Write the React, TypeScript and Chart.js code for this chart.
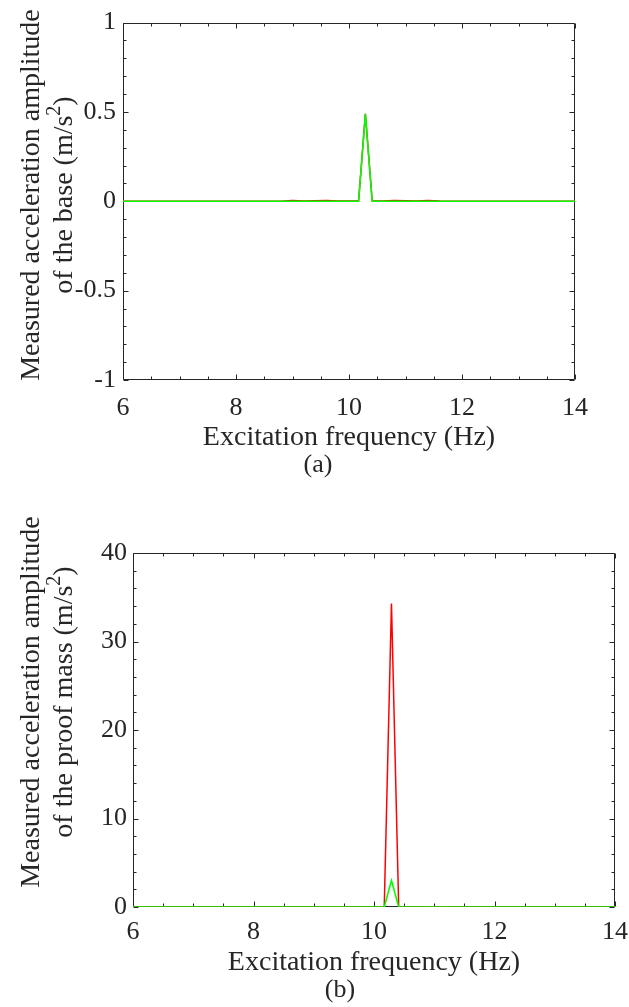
import React, { useEffect, useRef } from 'react';
import { Chart, registerables } from 'chart.js';
Chart.register(...registerables);

// ---- data ----
const freqBase = [6.0, 7.0, 8.0, 8.8, 9.0, 9.2, 9.4, 9.6, 9.8, 10.05, 10.17, 10.29, 10.41, 10.6, 10.8, 11.0, 11.2, 11.4, 11.6, 12.0, 13.0, 14.0];
const baseRed = [0, 0, 0, 0, 0.004, 0.002, 0.003, 0.004, 0.001, 0.002, 0.003, 0.49, 0.003, 0.002, 0.004, 0.003, 0.002, 0.004, 0.001, 0, 0, 0];
const baseGreen = [0, 0, 0, 0, 0, 0, 0, 0, 0, 0, 0, 0.49, 0, 0, 0, 0, 0, 0, 0, 0, 0, 0];

const freqMass = [6.0, 8.0, 9.5, 10.17, 10.29, 10.41, 11.0, 12.0, 14.0];
const massRed = [0, 0, 0.02, 0, 34.3, 0, 0.02, 0, 0];
const massGreen = [0, 0, 0, 0, 3.0, 0, 0, 0, 0];

const xMajorTicks = [6, 8, 10, 12, 14];
const yMajorTicksA = [-1, -0.5, 0, 0.5, 1];
const yMajorTicksB = [0, 10, 20, 30, 40];

const FONT = '"Liberation Serif", "Times New Roman", serif';
const INK = '#262626';

const isMajor = (arr: number[], v: number) => arr.some((t) => Math.abs(t - v) < 1e-6);

const framePlugin = {
  id: 'frameTicks',
  beforeDatasetsDraw(chart: any, _args: any, opts: any) {
    const { ctx, chartArea } = chart;
    const { left, right, top, bottom } = chartArea;
    const L = Math.round(left) + 0.5, R = Math.round(right) - 0.5;
    const T = Math.round(top) + 0.5, B = Math.round(bottom) - 0.5;
    ctx.save();
    ctx.strokeStyle = INK;
    ctx.lineWidth = 1;
    ctx.beginPath();
    ctx.rect(L, T, R - L, B - T);
    ctx.stroke();
    const xs = chart.scales.x, ys = chart.scales.y;
    ctx.beginPath();
    xs.ticks.forEach((t: any) => {
      const px = Math.round(xs.getPixelForValue(t.value)) + 0.5;
      const len = isMajor(opts.xMajor, t.value) ? 5 : 3;
      ctx.moveTo(px, B); ctx.lineTo(px, B - len);
      ctx.moveTo(px, T); ctx.lineTo(px, T + len);
    });
    ys.ticks.forEach((t: any) => {
      const py = Math.round(ys.getPixelForValue(t.value)) + 0.5;
      const len = isMajor(opts.yMajor, t.value) ? 5 : 3;
      ctx.moveTo(L, py); ctx.lineTo(L + len, py);
      ctx.moveTo(R, py); ctx.lineTo(R - len, py);
    });
    ctx.stroke();
    ctx.restore();
  },
  afterDraw(chart: any, _args: any, opts: any) {
    const { ctx } = chart;
    ctx.save();
    ctx.fillStyle = INK;
    const size = opts.titleSize;
    ctx.translate(opts.yTitleX1, opts.yTitleCy);
    ctx.rotate(-Math.PI / 2);
    ctx.font = `${size}px ${FONT}`;
    ctx.textAlign = 'center';
    ctx.textBaseline = 'middle';
    ctx.fillText(opts.yTitle1, 0, 0);
    ctx.restore();

    ctx.save();
    ctx.fillStyle = INK;
    ctx.translate(opts.yTitleX2, opts.yTitleCy);
    ctx.rotate(-Math.PI / 2);
    ctx.textBaseline = 'middle';
    ctx.textAlign = 'left';
    const big = `${size}px ${FONT}`;
    const small = `${Math.round(size * 0.7)}px ${FONT}`;
    ctx.font = big;
    const w1 = ctx.measureText(opts.yTitle2).width;
    const w3 = ctx.measureText(opts.yTitle2End).width;
    ctx.font = small;
    const w2 = ctx.measureText(opts.yTitleSup).width;
    let x0 = -(w1 + w2 + w3) / 2;
    ctx.font = big;
    ctx.fillText(opts.yTitle2, x0, 0);
    x0 += w1;
    ctx.font = small;
    ctx.fillText(opts.yTitleSup, x0, -size * 0.38);
    x0 += w2;
    ctx.font = big;
    ctx.fillText(opts.yTitle2End, x0, 0);
    ctx.restore();

    ctx.save();
    ctx.fillStyle = INK;
    ctx.font = `${opts.panelSize}px ${FONT}`;
    ctx.textAlign = 'center';
    ctx.textBaseline = 'middle';
    ctx.fillText(opts.panel, opts.panelX, opts.panelY);
    ctx.restore();
  },
};

type Panel = {
  freq: number[]; red: number[]; green: number[];
  yMin: number; yMax: number; yStep: number; yMajor: number[];
  padTop: number; padRight: number; yWidth: number; xHeight: number;
  xLabelPad: number; xTitlePad: number; yLabelPad: number;
  yTitle2: string; yTitleCy: number; panel: string; panelX: number; panelY: number;
};

const CANVAS_W = 660;

function buildConfig(p: Panel): any {
  return {
    type: 'line',
    data: {
      datasets: [
        {
          data: p.freq.map((f, i) => ({ x: f, y: p.green[i] })),
          borderColor: '#00ff00', borderWidth: 1.6, pointRadius: 0, tension: 0, fill: false,
        },
        {
          data: p.freq.map((f, i) => ({ x: f, y: p.red[i] })),
          borderColor: '#ff0000', borderWidth: 1.5, pointRadius: 0, tension: 0, fill: false,
        },
      ],
    },
    options: {
      animation: false,
      responsive: false,
      maintainAspectRatio: false,
      layout: { padding: { top: p.padTop, right: p.padRight, left: 0, bottom: 0 } },
      plugins: {
        legend: { display: false },
        tooltip: { enabled: false },
        frameTicks: {
          xMajor: xMajorTicks, yMajor: p.yMajor,
          titleSize: 28,
          yTitle1: 'Measured acceleration amplitude',
          yTitle2: p.yTitle2, yTitleSup: '2', yTitle2End: ')',
          yTitleX1: 32, yTitleX2: 65, yTitleCy: p.yTitleCy,
          panel: p.panel, panelX: p.panelX, panelY: p.panelY, panelSize: 26,
        },
      },
      scales: {
        x: {
          type: 'linear', min: 6, max: 14,
          grid: { display: false, drawTicks: false },
          border: { display: false },
          ticks: {
            stepSize: 0.5, autoSkip: false, maxTicksLimit: 100, maxRotation: 0, minRotation: 0,
            padding: p.xLabelPad, color: INK, font: { family: FONT, size: 26 },
            callback: (v: number) => (isMajor(xMajorTicks, v) ? String(Math.round(v)) : ''),
          },
          title: {
            display: true, text: 'Excitation frequency (Hz)', color: INK,
            font: { family: FONT, size: 28 }, padding: { top: 0, bottom: p.xTitlePad },
          },
          afterFit: (s: any) => { s.height = p.xHeight; },
        },
        y: {
          type: 'linear', min: p.yMin, max: p.yMax,
          grid: { display: false, drawTicks: false },
          border: { display: false },
          ticks: {
            stepSize: p.yStep, autoSkip: false, maxTicksLimit: 100,
            padding: p.yLabelPad, color: INK, font: { family: FONT, size: 26 },
            callback: (v: number) => {
              if (!isMajor(p.yMajor, v)) return '';
              const r = Math.round(v * 10) / 10;
              return String(r);
            },
          },
          afterFit: (s: any) => { s.width = p.yWidth; },
        },
      },
    },
    plugins: [framePlugin],
  };
}

const panelA: Panel = {
  freq: freqBase, red: baseRed, green: baseGreen,
  yMin: -1, yMax: 1, yStep: 0.1, yMajor: yMajorTicksA,
  padTop: 15, padRight: CANVAS_W - 575, yWidth: 123, xHeight: 110,
  xLabelPad: 13, xTitlePad: 36, yLabelPad: 7,
  yTitle2: 'of the base (m/s', yTitleCy: 195, panel: '(a)', panelX: 318, panelY: 465,
};

const panelB: Panel = {
  freq: freqMass, red: massRed, green: massGreen,
  yMin: 0, yMax: 40, yStep: 2, yMajor: yMajorTicksB,
  padTop: 63, padRight: CANVAS_W - 615, yWidth: 133, xHeight: 100,
  xLabelPad: 10, xTitlePad: 28, yLabelPad: 6,
  yTitle2: 'of the proof mass (m/s', yTitleCy: 212, panel: '(b)', panelX: 340, panelY: 500,
};

function ChartCanvas({ panel, top, height }: { panel: Panel; top: number; height: number }) {
  const ref = useRef<HTMLCanvasElement>(null);
  useEffect(() => {
    if (!ref.current) return;
    const chart = new Chart(ref.current, buildConfig(panel));
    return () => chart.destroy();
  }, [panel]);
  return (
    <canvas
      ref={ref}
      width={CANVAS_W}
      height={height}
      style={{ position: 'absolute', left: 0, top, width: CANVAS_W, height, display: 'block' }}
    />
  );
}

export default function App() {
  return (
    <div style={{ position: 'absolute', left: 0, top: 0, width: 629, height: 1007, background: '#fff', overflow: 'hidden' }}>
      <ChartCanvas panel={panelA} top={0} height={490} />
      <ChartCanvas panel={panelB} top={490} height={517} />
    </div>
  );
}
